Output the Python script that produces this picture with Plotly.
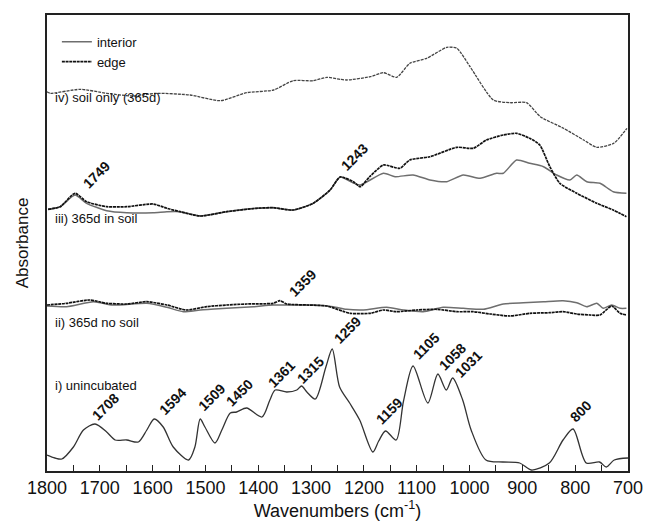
import plotly.graph_objects as go

# ---------------- data (wavenumber, cm-1  /  absorbance, arbitrary offset units) ----------
# i) unincubated
wn_i = [1800, 1785, 1772, 1750, 1731, 1709, 1687, 1671, 1649, 1627, 1611, 1597, 1580, 1561, 1532,
        1520, 1510, 1501, 1482, 1469, 1453, 1441, 1422, 1393, 1378, 1368, 1346, 1327, 1318, 1308,
        1292, 1272, 1260, 1246, 1227, 1208, 1183, 1172, 1159, 1139, 1125, 1107, 1079, 1060, 1044,
        1032, 1013, 997, 969, 937, 905, 883, 849, 823, 804, 779, 754, 741, 726, 700]
abs_i = [16, 13, 12, 24, 41, 47, 39, 31, 31, 29, 41, 52, 44, 24, 11,
         24, 52, 44, 28, 41, 58, 59, 63, 54, 71, 81, 79, 81, 85, 79,
         72, 104, 122, 84, 68, 51, 19, 30, 40, 31, 70, 105, 68, 97, 81,
         93, 71, 41, 11, 9, 8, 1, 8, 31, 42, 8, 9, 4, 11, 13]

# ii) 365d no soil
wn_ii_int = [1800, 1763, 1712, 1675, 1611, 1573, 1542, 1510, 1460, 1409, 1372, 1334, 1296, 1258,
             1233, 1201, 1157, 1125, 1088, 1050, 1012, 974, 936, 898, 860, 823, 797, 778, 759,
             747, 731, 715, 703]
abs_ii_int = [165, 164.3, 169.3, 166, 167.7, 163.7, 159.3, 161, 162.7, 164.3, 166, 166, 166, 164.3,
              161.7, 161, 163.7, 161, 159.3, 163.7, 162.7, 161.7, 167, 168.3, 169.3, 170.3, 168.3,
              164.3, 167.7, 162.7, 166, 162.7, 162.7]
wn_ii_edge = [1800, 1763, 1719, 1687, 1649, 1611, 1573, 1536, 1498, 1460, 1422, 1372, 1359, 1346,
              1308, 1270, 1226, 1188, 1163, 1138, 1100, 1062, 1024, 993, 961, 923, 886, 848, 823,
              797, 772, 753, 731, 715, 703]
abs_ii_edge = [166, 167.7, 171, 167.7, 167, 169.3, 166, 161, 164.3, 166, 167, 167.7, 170.3, 167,
               166, 165, 157.7, 157.7, 161, 159.3, 161, 161.7, 159.3, 159.3, 157, 155, 157.7, 158.3,
               159.3, 157, 156, 156, 165, 157.7, 156]

# iii) 365d in soil
wn_iii_int = [1798, 1775, 1747, 1725, 1687, 1649, 1599, 1573, 1548, 1510, 1460, 1403, 1372, 1334,
              1296, 1264, 1245, 1220, 1207, 1163, 1141, 1107, 1075, 1043, 1012, 980, 949, 936, 911,
              886, 860, 835, 810, 797, 778, 753, 728, 703]
abs_iii_int = [261.7, 264.3, 276, 267.7, 260.3, 258.3, 258.3, 259.3, 259.3, 255, 259.3, 262.7,
               263.3, 261, 267.7, 281, 294, 288, 286, 297.7, 294.3, 296, 291, 289.3, 296, 292.7,
               297.7, 297.7, 311, 307.7, 304.3, 296, 291, 296, 289.3, 287.7, 279.3, 277.7]
wn_iii_edge = [1798, 1775, 1747, 1725, 1687, 1649, 1599, 1573, 1548, 1510, 1460, 1403, 1372, 1334,
               1296, 1264, 1245, 1220, 1207, 1189, 1163, 1132, 1113, 1075, 1024, 993, 968, 936, 911,
               886, 867, 848, 829, 797, 759, 728, 703]
abs_iii_edge = [261.7, 264.3, 277.7, 269.3, 264.3, 264.3, 267, 262.7, 259.3, 255, 259.3, 262.7,
                263.3, 261, 267.7, 281, 294, 289.3, 284.3, 294.3, 306, 302.7, 311, 314.3, 323.7,
                322.7, 331, 336, 337.7, 332.7, 326, 304.3, 287.7, 277.7, 267.7, 261, 254.3]

# iv) soil only (365d)
wn_iv = [1800, 1794, 1737, 1687, 1637, 1592, 1529, 1472, 1422, 1371, 1334, 1296, 1270, 1245, 1232,
         1188, 1163, 1138, 1113, 1081, 1043, 1024, 999, 955, 923, 892, 866, 822, 784, 759, 727, 702]
abs_iv = [379.3, 377.7, 381.7, 377.7, 375, 377.7, 376, 370.3, 378.3, 381, 390.3, 390.3, 393.7,
          391.7, 391, 394.3, 398.3, 393.7, 407.7, 412.7, 423.7, 422.7, 404.3, 371, 368.3, 368.3,
          354.3, 342.7, 331, 323.7, 327.7, 342.7]

x_ticks = [1800, 1700, 1600, 1500, 1400, 1300, 1200, 1100, 1000, 900, 800, 700]

# peak labels: (text, label centre wavenumber, label centre absorbance)
peak_labels = [("1708", 1690, 64), ("1594", 1562, 70), ("1509", 1488, 74), ("1450", 1436, 78),
               ("1361", 1356, 97), ("1315", 1301, 101), ("1259", 1231, 141), ("1159", 1152, 60),
               ("1105", 1082, 125), ("1058", 1033, 114), ("1031", 1002, 107), ("800", 789, 60),
               ("1359", 1316, 188), ("1749", 1707, 296), ("1243", 1218, 314)]

# spectrum labels: (text, absorbance of text centre)
spectrum_labels = [("iv) soil only (365d)", 374), ("iii) 365d in soil", 253),
                   ("ii) 365d no soil", 149), ("i) unincubated", 86)]

# ---------------- figure ----------------
FONT = "Arial, 'Liberation Sans', Helvetica, sans-serif"
INT_COLOR = "#6e6e6e"
EDGE_COLOR = "#111111"

fig = go.Figure()

fig.add_trace(go.Scatter(x=wn_iv, y=abs_iv, mode="lines",
                         line=dict(color="#444444", width=1.3, dash="3px,1px", shape="spline", smoothing=0.6),
                         showlegend=False, name="soil only"))
fig.add_trace(go.Scatter(x=wn_iii_int, y=abs_iii_int, mode="lines",
                         line=dict(color=INT_COLOR, width=1.5, shape="spline", smoothing=0.6),
                         name="interior", legendrank=1))
fig.add_trace(go.Scatter(x=wn_iii_edge, y=abs_iii_edge, mode="lines",
                         line=dict(color=EDGE_COLOR, width=1.7, dash="3px,0.7px", shape="spline", smoothing=0.6),
                         name="edge", legendrank=2))
fig.add_trace(go.Scatter(x=wn_ii_int, y=abs_ii_int, mode="lines",
                         line=dict(color=INT_COLOR, width=1.5, shape="spline", smoothing=0.6),
                         showlegend=False, name="interior"))
fig.add_trace(go.Scatter(x=wn_ii_edge, y=abs_ii_edge, mode="lines",
                         line=dict(color=EDGE_COLOR, width=1.7, dash="3px,0.7px", shape="spline", smoothing=0.6),
                         showlegend=False, name="edge"))
fig.add_trace(go.Scatter(x=wn_i, y=abs_i, mode="lines",
                         line=dict(color="#333333", width=1.3, shape="spline", smoothing=0.8),
                         showlegend=False, name="unincubated"))

annotations = []
for txt, x, y in peak_labels:
    annotations.append(dict(text=f"<b>{txt}</b>", x=x, y=y, xref="x", yref="y", showarrow=False,
                            textangle=-45, xanchor="center", yanchor="middle",
                            font=dict(family=FONT, size=14, color="#111111")))
for txt, y in spectrum_labels:
    annotations.append(dict(text=txt, x=0.01, y=y, xref="paper", yref="y", showarrow=False,
                            xanchor="left", yanchor="middle",
                            font=dict(family=FONT, size=13, color="#111111")))

fig.update_layout(
    width=646, height=523,
    margin=dict(l=47, r=18, t=15, b=52),
    paper_bgcolor="white", plot_bgcolor="white",
    font=dict(family=FONT, color="#111111"),
    annotations=annotations,
    showlegend=True,
    legend=dict(x=0.017, y=0.974, xanchor="left", yanchor="top", bgcolor="rgba(0,0,0,0)",
                font=dict(family=FONT, size=13, color="#111111"), tracegroupgap=0,
                itemwidth=30),
    xaxis=dict(range=[1800, 700], tickmode="array", tickvals=x_ticks,
               ticktext=[str(v) for v in x_ticks],
               ticks="inside", ticklen=6, tickwidth=1.2, tickcolor="#222",
               minor=dict(ticks="inside", ticklen=6, tickwidth=1.2, tickcolor="#222", dtick=50, tick0=750),
               showline=True, linecolor="#222", linewidth=1.6, mirror=True,
               showgrid=False, zeroline=False, automargin=False,
               tickfont=dict(family=FONT, size=18, color="#111"),
               title=dict(text="Wavenumbers (cm<sup>-1</sup>)", font=dict(family=FONT, size=18, color="#111"), standoff=6)),
    yaxis=dict(range=[0, 456], showticklabels=False, ticks="",
               showline=True, linecolor="#222", linewidth=1.6, mirror=True,
               showgrid=False, zeroline=False, automargin=False,
               title=dict(text="Absorbance", font=dict(family=FONT, size=17, color="#111"), standoff=12)),
)

# remove the browser's default 8px body margin so the figure sits at the page origin
fig.write_html("out.html", config={"displayModeBar": False},
               post_script="document.body.style.margin='0';")
